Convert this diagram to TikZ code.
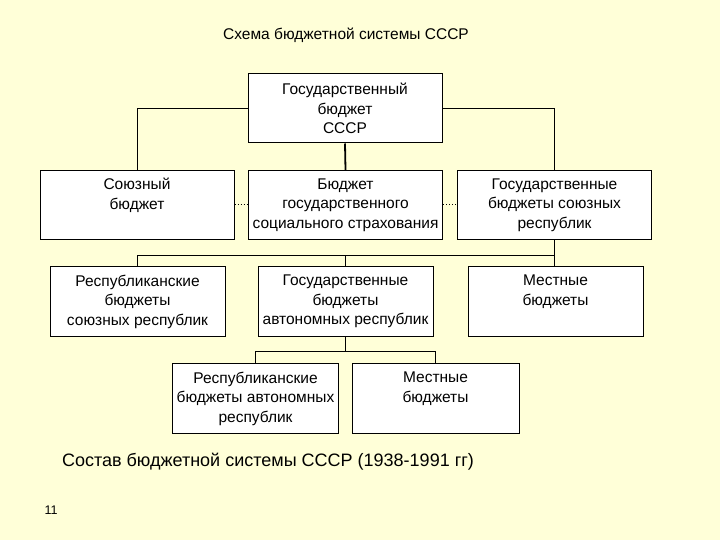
\documentclass[tikz,border=0pt]{standalone}
\usepackage{fontspec}
\setmainfont{Liberation Sans}
\definecolor{bgyellow}{HTML}{FFFFD8}
\begin{document}
\begin{tikzpicture}[x=1pt,y=-1pt,
  box/.style={draw=black,line width=1pt,fill=white,inner sep=0pt,
    minimum width=#1,minimum height=69pt,align=center,
    font=\fontsize{15.5}{19.5}\selectfont},
  box/.default=194pt,
  link/.style={draw=black,line width=1pt},
  thick link/.style={draw=black,line width=1.8pt},
  dots/.style={draw=black,line width=1pt,dotted}]
\fill[bgyellow] (0,0) rectangle (720,540);
\useasboundingbox (0,0) rectangle (720,540);

\node (title) at (346,35) {\fontsize{15.5}{18}\selectfont Схема бюджетной системы СССР};

\node[box] (top) at (345,108.5) {Государственный\\бюджет\\СССР};
\node[box] (sb) at (137,205) {Союзный\\бюджет\\\vphantom{Ру}};
\node[box] (ss) at (345.5,205) {Бюджет\\государственного\\социального страхования};
\node[box] (gr) at (554.5,205) {Государственные\\бюджеты союзных\\республик};

\node[box=175pt,minimum height=70pt] (rr) at (137.5,301.5) {Республиканские\\бюджеты\\союзных республик};
\node[box=175pt,minimum height=70pt] (ga) at (345.5,301.5) {Государственные\\бюджеты\\автономных республик};
\node[box=175pt,minimum height=70pt] (ml) at (555.5,301.5) {Местные\\бюджеты\\\vphantom{Ру}};

\node[box=166pt,minimum height=70pt] (ra) at (255.5,398.5) {Республиканские\\бюджеты автономных\\республик};
\node[box=167pt,minimum height=70pt] (ml2) at (435.5,398.5) {Местные\\бюджеты\\\vphantom{Ру}};

\node (caption) at (268,462) {\fontsize{18}{21}\selectfont Состав бюджетной системы СССР (1938-1991 гг)};
\node (page) at (51,510) {\fontsize{12.5}{15}\selectfont 11};

% connectors
\draw[link] (top.west) -| (sb.north);
\draw[link] (top.east) -| (gr.north);
\draw[thick link] (top.south) -- (ss.north);
\draw[dots] (sb.east) -- (ss.west);
\draw[dots] (ss.east) -- (gr.west);

\coordinate (busR) at ([yshift=-15pt]gr.south);
\draw[thick link] (gr.south) -- (gr.south |- ml.north);
\draw[link] (rr.north) -- (rr.north |- busR) -- (busR);
\draw[link] (ga.north) -- (ga.north |- busR);

\coordinate (busL) at ([yshift=-14pt]ga.south);
\draw[thick link] (ga.south) -- (busL);
\draw[link] (ra.north) -- (ra.north |- busL) -| (ml2.north);
\end{tikzpicture}
\end{document}
